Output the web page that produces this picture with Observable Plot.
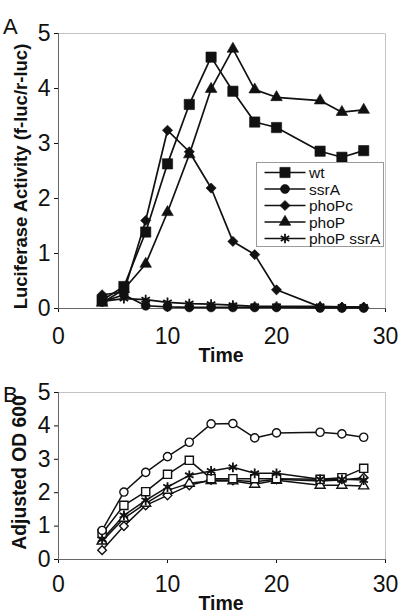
<!DOCTYPE html>
<html><head><meta charset="utf-8">
<script src="https://cdn.jsdelivr.net/npm/d3@7"></script>
<script src="https://cdn.jsdelivr.net/npm/@observablehq/plot@0.6"></script>
<style>
body{margin:0;background:#fff;}
#wrap{position:relative;width:400px;height:612px;overflow:hidden;background:#fff;font-family:"Liberation Sans",Arial,sans-serif;color:#111}
#wrap > *{position:absolute;left:0}
</style></head><body><div id="wrap"></div>
<script>
// ---- data ----
const times = [4, 6, 8, 10, 12, 14, 16, 18, 20, 24, 26, 28];
const seriesNames = ["wt", "ssrA", "phoPc", "phoP", "phoP ssrA"];
const xTicks = [0, 10, 20, 30];
const yTicks = [0, 1, 2, 3, 4, 5];

// Panel A: Luciferase Activity (f-luc/r-luc)
const lucWt       = [0.15, 0.40, 1.39, 2.63, 3.71, 4.57, 3.95, 3.39, 3.29, 2.86, 2.75, 2.87];
const lucSsrA     = [0.12, 0.25, 0.05, 0.03, 0.02, 0.02, 0.02, 0.02, 0.02, 0.01, 0.01, 0.01];
const lucPhoPc    = [0.25, 0.30, 1.60, 3.24, 2.85, 2.19, 1.22, 0.98, 0.34, 0.03, 0.02, 0.02];
const lucPhoP     = [0.10, 0.35, 0.81, 1.75, 2.80, 3.99, 4.72, 3.98, 3.84, 3.78, 3.57, 3.61];
const lucPhoPSsrA = [0.13, 0.18, 0.16, 0.11, 0.09, 0.08, 0.06, 0.04, 0.04, 0.04, 0.03, 0.03];

// Panel B: Adjusted OD 600
const odWt       = [0.78, 1.62, 2.03, 2.55, 2.97, 2.42, 2.42, 2.42, 2.42, 2.40, 2.45, 2.73];
const odSsrA     = [0.87, 2.02, 2.61, 3.08, 3.51, 4.06, 4.07, 3.64, 3.79, 3.81, 3.76, 3.66];
const odPhoPc    = [0.28, 1.00, 1.62, 1.92, 2.22, 2.38, 2.37, 2.33, 2.40, 2.35, 2.38, 2.45];
const odPhoP     = [0.55, 1.23, 1.68, 2.07, 2.28, 2.36, 2.35, 2.25, 2.37, 2.22, 2.22, 2.20];
const odPhoPSsrA = [0.60, 1.32, 1.77, 2.17, 2.52, 2.65, 2.76, 2.58, 2.58, 2.40, 2.40, 2.38];

// ---- build tables ----
const lucSeries = [lucWt, lucSsrA, lucPhoPc, lucPhoP, lucPhoPSsrA];
const odSeries  = [odWt, odSsrA, odPhoPc, odPhoP, odPhoPSsrA];
function table(seriesVals) {
  const rows = [];
  seriesNames.forEach((s, i) => times.forEach((t, j) => rows.push({series: s, time: t, value: seriesVals[i][j]})));
  return rows;
}
const lucRows = table(lucSeries);
const odRows = table(odSeries);

// marker styles per series
const symbolOf = {"wt": "square", "ssrA": "circle", "phoPc": "diamond2", "phoP": "triangle", "phoP ssrA": "asterisk"};
const rA = {"wt": 5.8, "ssrA": 4.5, "phoPc": 4.6, "phoP": 4.3, "phoP ssrA": 4.6};
const rB = {"wt": 4.6, "ssrA": 4.1, "phoPc": 3.9, "phoP": 3.7, "phoP ssrA": 4.6};
const drawOrderA = ["wt", "ssrA", "phoP", "phoPc", "phoP ssrA"];
const drawOrderB = ["phoPc", "phoP", "wt", "phoP ssrA", "ssrA"];

const font = "Liberation Sans, Arial, sans-serif";

function panel(rows, opts) {
  const marks = [
    Plot.frame({stroke: "#9a9a9a", strokeDasharray: "1.2,0.8", strokeWidth: 1}),
    Plot.ruleX([0], {stroke: "#666", strokeWidth: 1}),
    Plot.ruleY([0], {stroke: "#666", strokeWidth: 1})
  ];
  for (const s of opts.order) {
    const d = rows.filter(r => r.series === s);
    marks.push(Plot.line(d, {x: "time", y: "value", stroke: "#111", strokeWidth: opts.lw}));
  }
  for (const s of opts.order) {
    const d = rows.filter(r => r.series === s);
    const sym = symbolOf[s];
    if (sym === "asterisk") {
      marks.push(Plot.dot(d, {x: "time", y: "value", symbol: () => sym, r: opts.r[s], fill: "none", stroke: "#111", strokeWidth: 1.8}));
    } else if (opts.open) {
      marks.push(Plot.dot(d, {x: "time", y: "value", symbol: () => sym, r: opts.r[s], fill: "white", stroke: "#111", strokeWidth: 1.4}));
    } else {
      marks.push(Plot.dot(d, {x: "time", y: "value", symbol: () => sym, r: opts.r[s], fill: "#111", stroke: "#111", strokeWidth: 0.6}));
    }
  }
  return Plot.plot({
    width: 400, height: opts.height,
    marginLeft: 58, marginRight: 15, marginTop: opts.mt, marginBottom: opts.mb,
    style: {fontSize: "23px", fontFamily: font, color: "#111", background: "transparent", overflow: "visible"},
    x: {domain: [0, 30], ticks: xTicks, tickFormat: d => String(d), tickSize: 4, tickPadding: opts.xpad, label: null},
    y: {domain: [0, 5], ticks: yTicks, tickFormat: d => String(d), tickSize: 4, tickPadding: 4, label: null},
    symbol: {type: "identity"},
    marks
  });
}

const wrap = document.getElementById("wrap");
const pA = panel(lucRows, {height: 365, mt: 33, mb: 57, xpad: 15, lw: 1.7, r: rA, order: drawOrderA, open: false});
pA.style.top = "0px";
wrap.appendChild(pA);
const pB = panel(odRows, {height: 247, mt: 27, mb: 53, xpad: 12, lw: 1.5, r: rB, order: drawOrderB, open: true});
pB.style.top = "365px";
wrap.appendChild(pB);

// ---- text overlay + legend ----
const svg = d3.create("svg").attr("width", 400).attr("height", 612)
  .style("top", "0px").style("pointer-events", "none")
  .attr("font-family", font).attr("fill", "#111");
svg.append("text").attr("x", 3).attr("y", 34).attr("font-size", 22).text("A");
svg.append("text").attr("x", 3).attr("y", 402).attr("font-size", 22).text("B");
svg.append("text").attr("transform", "translate(26.5,176.5) rotate(-90)").attr("text-anchor", "middle")
  .attr("font-size", 18.5).attr("font-weight", "bold").text("Luciferase Activity (f-luc/r-luc)");
svg.append("text").attr("transform", "translate(25.5,472.5) rotate(-90)").attr("text-anchor", "middle")
  .attr("font-size", 19.3).attr("font-weight", "bold").text("Adjusted OD 600");
svg.append("text").attr("x", 221).attr("y", 361.5).attr("text-anchor", "middle")
  .attr("font-size", 19.5).attr("font-weight", "bold").text("Time");
svg.append("text").attr("x", 221).attr("y", 609.5).attr("text-anchor", "middle")
  .attr("font-size", 19.5).attr("font-weight", "bold").text("Time");

// legend (panel A)
const d3sym = {square: d3.symbolSquare, circle: d3.symbolCircle, diamond2: d3.symbolDiamond2, triangle: d3.symbolTriangle, asterisk: d3.symbolAsterisk};
const lg = svg.append("g").attr("transform", "translate(256.5,162.5)");
lg.append("rect").attr("width", 127).attr("height", 84).attr("fill", "white").attr("stroke", "#9a9a9a").attr("stroke-width", 1);
seriesNames.forEach((s, i) => {
  const y = 10 + i * 16.5;
  const g = lg.append("g").attr("transform", `translate(0,${y})`);
  g.append("line").attr("x1", 8).attr("x2", 49).attr("stroke", "#111").attr("stroke-width", 1.7);
  const sym = symbolOf[s];
  const p = d3.symbol(d3sym[sym], Math.PI * rA[s] * rA[s])();
  const path = g.append("path").attr("d", p).attr("transform", "translate(28.5,0)");
  if (sym === "asterisk") path.attr("fill", "none").attr("stroke", "#111").attr("stroke-width", 1.8);
  else path.attr("fill", "#111").attr("stroke", "#111").attr("stroke-width", 0.6);
  g.append("text").attr("x", 52.5).attr("y", 5.5).attr("font-size", 15.5).text(s);
});
wrap.appendChild(svg.node());
</script></body></html>
